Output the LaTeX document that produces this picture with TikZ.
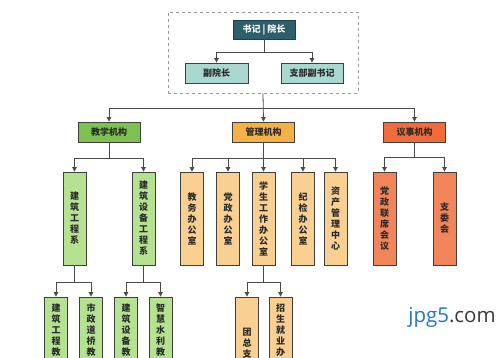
\documentclass[tikz,border=0pt]{standalone}
\usepackage{fontspec}
\newfontfamily\cjk{Noto Sans CJK SC}
\newfontfamily\wmfont{Open Sans}
\usetikzlibrary{arrows.meta}
\definecolor{bd}{HTML}{3F3F3F}
\definecolor{ln}{HTML}{4A4A4A}
\definecolor{txt}{HTML}{2B2B2B}
\definecolor{topfill}{HTML}{2C5F6A}
\definecolor{topbd}{HTML}{1E3F47}
\definecolor{tealfill}{HTML}{A9D8D1}
\definecolor{gA}{HTML}{7DC250}
\definecolor{gB}{HTML}{B4E290}
\definecolor{oA}{HTML}{F6B144}
\definecolor{oB}{HTML}{F9CF92}
\definecolor{rA}{HTML}{F26C3B}
\definecolor{rB}{HTML}{F2845A}
\definecolor{dashc}{HTML}{9A9A9A}
\definecolor{wmblue}{HTML}{1E7BC8}
\definecolor{wmgray}{HTML}{3A3A3A}
\begin{document}
\begin{tikzpicture}[x=1pt,y=-1pt,
  box/.style={draw=bd, line width=0.8pt, inner sep=0pt, text=txt, align=center,
    font=\cjk\bfseries\fontsize{9}{11}\selectfont},
  lvtwo/.style={box, minimum width=62pt, minimum height=20pt},
  lvthree/.style={box, minimum width=23pt, minimum height=93pt},
  lvfour/.style={box, minimum width=23pt, minimum height=88pt},
  vtext/.style={inner sep=0pt, text=txt, align=center, anchor=north,
    font=\cjk\bfseries\fontsize{9}{11}\selectfont},
  conn/.style={draw=ln, line width=0.8pt, -{Triangle[length=4.5pt,width=4.5pt]}},
  plain/.style={draw=ln, line width=0.8pt}
]
\useasboundingbox (0,0) rectangle (501,358);
\clip (0,0) rectangle (501,358);
\fill[white] (0,0) rectangle (501,358);

% top group
\node[draw=dashc, dashed, line width=0.8pt, minimum width=190pt, minimum height=81pt, inner sep=0pt] (frame) at (263,52.5) {};
\node[box, draw=topbd, fill=topfill, text=white, minimum width=62pt, minimum height=19pt] (boss) at (264,29.5) {书记 | 院长};
\node[box, fill=tealfill, minimum width=63pt, minimum height=20pt] (fu) at (216.5,73) {副院长};
\node[box, fill=tealfill, minimum width=62pt, minimum height=20pt] (zhi) at (312,73) {支部副书记};
\coordinate (j0) at (264,52);
\draw[plain] (boss.south) -- (j0);
\draw[conn] (j0) -| (fu.north);
\draw[conn] (j0) -| (zhi.north);

% level two
\node[lvtwo, fill=gA] (jx) at (109,132) {教学机构};
\node[lvtwo, fill=oA] (gl) at (263.5,132) {管理机构};
\node[lvtwo, fill=rA] (ys) at (414.5,132) {议事机构};
\coordinate (j1) at (263,108);
\draw[conn] (frame.south) -- (gl.north);
\draw[conn] (j1) -| (jx.north);
\draw[conn] (j1) -| (ys.north);

% level three
\node[lvthree, fill=gB] (a1) at (74.5,218.5) {建\\筑\\工\\程\\系};
\node[lvthree, fill=gB] (a2) at (143.5,218.5) {建\\筑\\设\\备\\工\\程\\系};
\node[lvthree, fill=oB] (b1) at (192,218.5) {教\\务\\办\\公\\室};
\node[lvthree, fill=oB] (b2) at (228,218.5) {党\\政\\办\\公\\室};
\node[lvthree, fill=oB] (b3) at (263.5,218.5) {学\\生\\工\\作\\办\\公\\室};
\node[lvthree, fill=oB] (b4) at (303,218.5) {纪\\检\\办\\公\\室};
\node[lvthree, fill=oB] (b5) at (335.5,218.5) {资\\产\\管\\理\\中\\心};
\node[lvthree, fill=rB] (c1) at (384.5,218.5) {党\\政\\联\\席\\会\\议};
\node[lvthree, fill=rB] (c2) at (444.5,218.5) {支\\委\\会};

\coordinate (ja) at (109,158);
\draw[plain] (jx.south) -- (ja);
\draw[conn] (ja) -| (a1.north);
\draw[conn] (ja) -| (a2.north);
\coordinate (jb) at (263.5,158);
\draw[conn] (gl.south) -- (b3.north);
\draw[conn] (jb) -| (b1.north);
\draw[conn] (jb) -| (b2.north);
\draw[conn] (jb) -| (b4.north);
\draw[conn] (jb) -| (b5.north);
\coordinate (jc) at (414.5,157);
\draw[plain] (ys.south) -- (jc);
\draw[conn] (jc) -| (c1.north);
\draw[conn] (jc) -| (c2.north);

% level four
\node[lvfour, fill=gB] (d1) at (56,341) {};
\node[lvfour, fill=gB] (d2) at (91,341) {};
\node[lvfour, fill=gB] (d3) at (126,341) {};
\node[lvfour, fill=gB] (d4) at (160.5,341) {};
\node[lvfour, fill=oB] (e1) at (247,341) {};
\node[lvfour, fill=oB] (e2) at (280.5,341) {};
\node[vtext] (d1t) at (56,303.5) {建\\筑\\工\\程\\教};
\node[vtext] (d2t) at (91,303.5) {市\\政\\道\\桥\\教};
\node[vtext] (d3t) at (126,303.5) {建\\筑\\设\\备\\教};
\node[vtext] (d4t) at (160.5,303.5) {智\\慧\\水\\利\\教};
\node[vtext] (e1t) at (247,327.5) {团\\总\\支};
\node[vtext] (e2t) at (280.5,303.5) {招\\生\\就\\业\\办};

\coordinate (jd) at (74.5,282);
\draw[plain] (a1.south) -- (jd);
\draw[conn] (jd) -| (d1.north);
\draw[conn] (jd) -| (d2.north);
\coordinate (je) at (143.5,282);
\draw[plain] (a2.south) -- (je);
\draw[conn] (je) -| (d3.north);
\draw[conn] (je) -| (d4.north);
\coordinate (jf) at (263.5,282);
\draw[plain] (b3.south) -- (jf);
\draw[conn] (jf) -| (e1.north);
\draw[conn] (jf) -| (e2.north);

% watermark
\node[inner sep=0pt, font=\wmfont\fontsize{20.5}{24}\selectfont] (wm) at (452,317)
  {\textcolor{wmblue}{jpg5}\textcolor{wmgray}{.com}};
\end{tikzpicture}
\end{document}
